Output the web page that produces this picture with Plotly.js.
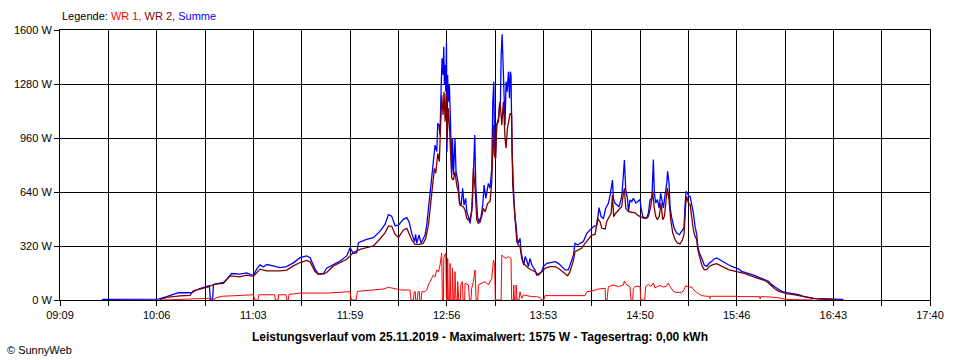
<!DOCTYPE html>
<html>
<head>
<meta charset="utf-8">
<script src="https://cdn.plot.ly/plotly-3.0.1.min.js"></script>
<style>
  html, body { margin: 0; padding: 0; background: #fff; }
  #chart { width: 960px; height: 360px; }
</style>
</head>
<body>
<div id="chart"></div>
<script>
// Times are minutes after midnight (25.11.2019), values in W.
const xLabels = ['09:09','10:06','11:03','11:59','12:56','13:53','14:50','15:46','16:43','17:40'];
const yTicks = [0, 320, 640, 960, 1280, 1600];

// Summe (blue)
const sumT = [573.7,606.8,611.7,615.6,618.5,626.3,628.3,631.2,635.2,636.7,637.3,638.7,639.1,640.1,645.0,646.9,649.8,654.7,658.7,662.6,664.5,666.5,668.4,670.4,674.3,678.2,682.1,686.1,690.0,693.9,695.9,698.8,700.7,703.7,705.6,709.6,713.5,717.4,719.4,721.3,723.3,724.3,729.1,733.1,737.0,739.9,741.9,743.8,745.8,
  747.8,750.7,752.7,754.0,755.6,757.2,757.9,758.5,759.9,761.1,762.4,763.4,764.4,765.4,766.4,767.3,768.3,769.3,770.3,770.9,771.6,772.2,772.8,773.4,774.0,774.4,774.8,775.2,775.6,776.0,776.3,776.7,777.1,777.7,778.3,779.1,779.5,780.1,781.0,781.6,782.4,783.0,783.6,784.6,785.5,786.3,787.3,787.9,788.9,789.9,791.2,792.0,792.6,793.2,794.2,795.1,796.3,797.3,798.1,799.1,800.6,801.6,802.6,803.2,803.8,804.1,804.7,805.5,806.5,807.1,807.7,808.1,808.7,809.2,809.8,810.4,811.0,811.6,812.4,813.0,813.5,813.9,814.5,815.1,815.7,816.3,816.9,817.5,818.2,819.2,819.8,820.6,821.4,822.2,823.1,824.1,825.1,826.1,828.0,829.0,830.0,831.9,832.9,834.9,837.8,839.8,841.7,843.7,845.7,847.6,848.6,850.6,851.5,853.1,854.5,856.4,858.4,860.3,862.3,864.3,865.6,866.8,868.2,869.5,871.1,872.1,873.5,874.0,875.0,877.4,878.9,879.9,880.5,881.3,882.3,882.9,883.8,884.8,885.8,
  887.3,888.7,889.7,890.3,891.3,892.2,893.6,894.6,895.6,896.7,897.5,898.1,898.9,899.9,900.9,901.8,902.6,903.4,904.4,905.4,905.9,906.7,907.3,908.3,909.7,911.2,912.8,914.2,915.5,916.1,916.7,917.5,918.3,919.1,920.0,921.0,922.0,923.0,923.6,924.5,925.9,927.3,928.9,930.4,931.8,933.2,934.7,936.3,937.7,939.6,941.6,943.5,945.5,947.5,949.4,951.4,953.3,955.3,957.2,959.2,961.2,963.1,965.1,967.0,969.0,970.9,972.9,974.9,977.8,979.8,982.7,985.6,988.6,991.5,995.4,999.3,1003.3,1009.1];
const sumW = [4,5,20,35,43,43,55,67,80,85,5,5,90,94,104,122,157,153,161,145,183,208,196,210,202,192,198,220,251,261,251,183,153,157,188,212,231,261,310,275,280,340,359,369,408,448,506,497,440,
  444,478,488,464,395,346,389,336,385,336,365,385,444,543,602,731,800,918,879,1047,1037,978,1234,1432,1333,1501,1274,1392,1234,1521,879,1333,1175,1274,1076,760,958,741,958,760,721,681,573,563,662,563,602,523,494,454,563,780,978,681,494,464,494,563,681,602,691,662,780,1175,1294,1037,839,1037,1076,1155,1175,1452,1574,1412,1195,1037,1294,1234,1353,1195,1353,1333,879,681,583,484,444,365,336,365,286,247,207,257,237,198,247,207,178,148,152,168,198,217,223,227,217,198,178,178,207,267,336,326,336,346,395,415,435,444,547,494,484,543,573,622,711,602,573,553,612,741,830,652,602,523,593,583,602,
  575,585,595,545,496,486,486,516,595,604,832,634,575,595,545,634,575,545,624,693,762,693,555,486,427,397,387,407,427,555,644,634,614,614,575,516,436,387,318,278,249,209,199,219,229,243,249,239,229,219,209,199,190,184,170,164,160,150,144,136,130,120,111,91,77,65,51,45,41,38,32,22,14,10,8,6,6,4];

// WR 2 (dark red)
const wr2T = [607.7,608.7,611.7,619.5,625.4,627.3,631.2,635.2,640.1,645.0,648.9,654.7,658.7,662.6,666.5,670.4,678.2,682.1,686.1,690.0,693.9,695.9,698.8,700.7,703.7,705.6,709.6,713.5,717.4,721.3,725.2,729.1,733.1,737.0,739.9,741.9,743.8,745.8,
  747.8,750.7,752.7,754.0,755.6,757.5,760.5,762.4,763.8,765.4,767.0,767.7,768.9,769.7,770.9,771.8,772.6,773.2,774.0,774.6,775.2,775.8,776.3,777.1,777.7,778.3,779.1,780.1,781.0,782.0,783.0,784.0,785.9,786.9,787.9,788.9,789.9,790.8,791.8,792.8,793.8,794.7,795.7,796.7,797.7,798.7,800.2,801.6,802.6,803.6,804.1,804.9,805.5,806.5,807.5,808.5,809.4,810.4,811.0,811.8,812.4,813.4,814.3,814.9,815.7,816.3,817.3,818.2,819.2,820.2,821.2,822.2,824.1,826.1,828.0,830.0,831.9,833.9,836.8,839.8,841.7,843.7,845.7,847.2,848.6,850.6,851.5,853.5,855.4,857.4,859.4,861.3,863.3,864.8,866.2,867.2,869.2,870.1,871.1,872.7,873.5,874.2,875.4,877.0,878.9,879.9,880.5,881.3,882.9,884.8,
  886.8,888.7,891.6,893.6,894.6,896.0,897.1,897.9,898.9,899.9,901.0,902.0,903.0,904.0,905.0,905.7,906.7,907.7,908.9,910.3,911.6,913.2,914.6,915.5,916.5,917.1,918.1,919.1,920.0,921.0,922.0,923.0,923.6,924.5,925.9,927.3,928.9,930.4,932.4,934.7,936.7,939.6,941.6,943.5,945.5,948.4,951.4,954.3,957.2,960.2,963.1,965.1,967.0,969.0,970.9,972.9,975.8,979.8,983.7,987.6,991.5,995.4,999.3,1005.2];
const wr2W = [3,5,16,25,27,55,65,75,94,98,143,137,147,140,183,173,173,177,202,222,235,226,169,153,153,163,202,222,241,281,300,310,320,363,398,438,438,390,
  371,415,425,395,356,330,330,336,365,444,602,701,780,751,869,820,997,1215,1096,1234,1057,1225,938,1136,1037,899,721,711,760,681,642,563,553,533,484,474,484,523,780,662,474,454,460,494,543,523,573,583,701,1037,859,839,1037,1057,1175,1037,1175,958,899,1017,1057,1106,1096,681,563,464,346,326,316,247,217,207,188,178,168,148,168,188,198,198,188,172,152,144,168,237,286,296,306,336,365,385,389,484,464,425,421,464,484,514,622,494,514,533,553,632,662,543,523,520,
  516,500,486,486,496,555,644,555,496,476,496,575,476,496,595,664,595,476,397,357,338,332,357,387,565,614,575,565,496,417,377,357,298,259,209,180,180,199,209,215,203,190,180,176,170,164,156,144,134,126,115,101,81,65,53,45,38,32,24,16,10,6,4,2];

// WR 1 (red)
const wr1T = [609.7,625.4,629.3,636.7,637.1,639.7,640.1,644.0,650.8,658.7,662.6,663.4,665.3,665.7,675.1,675.5,677.1,677.4,681.8,682.1,683.1,683.5,690.0,705.6,717.4,719.4,720.1,722.9,723.7,738.9,741.9,744.8,747.7,
  749.7,754.6,755.2,756.6,757.0,757.7,757.9,758.9,759.3,760.1,760.3,761.1,761.5,763.4,764.4,765.4,766.4,767.3,768.3,769.3,770.3,771.3,772.2,773.2,773.6,774.2,774.4,775.0,775.6,776.0,776.5,776.7,777.1,777.9,778.1,778.5,779.3,779.5,780.1,780.8,781.0,781.6,782.4,782.6,783.2,784.2,784.4,785.4,785.7,786.7,786.9,788.9,789.5,790.4,790.8,791.8,792.8,793.4,794.4,794.7,796.7,798.7,800.6,801.6,802.6,803.6,804.3,804.7,808.1,808.5,809.4,811.0,812.4,813.9,814.3,815.3,815.5,815.9,816.7,816.9,817.5,818.6,819.2,820.2,821.2,826.1,829.0,831.0,831.9,833.1,833.9,857.4,858.4,861.3,863.3,865.2,869.2,869.4,870.3,871.1,874.0,877.0,879.9,880.5,881.9,883.8,884.4,885.4,885.8,
  886.8,889.7,890.1,892.4,892.6,893.0,894.6,896.0,897.5,898.5,899.9,901.4,903.4,905.0,906.3,907.3,909.3,911.2,914.2,915.5,916.5,918.1,920.0,922.0,924.0,925.9,928.9,930.6,930.8,931.2,946.5,948.4,960.0,960.2,960.6,964.1,966.1,970.0,972.9,975.8,979.8,991.5];
const wr1W = [0,6,10,10,0,0,12,22,25,29,31,0,0,31,31,0,0,31,31,0,0,33,41,41,45,49,0,0,51,65,75,69,60,
  59,59,0,0,49,49,0,0,49,49,0,0,49,49,59,89,109,128,148,138,178,168,207,277,0,0,247,267,277,0,0,247,0,0,217,0,0,188,0,0,168,0,0,109,0,0,89,109,0,0,99,89,0,0,69,109,178,0,0,89,99,109,89,109,128,237,207,0,0,267,257,247,257,247,0,0,89,0,0,89,0,0,49,10,30,20,20,15,0,0,26,26,49,53,59,65,69,0,0,79,89,79,89,113,89,79,0,0,69,
  81,81,0,0,22,81,91,81,101,71,81,85,77,81,101,81,51,45,45,61,85,77,77,51,38,26,22,22,8,22,22,20,20,6,20,20,18,14,8,4,2,0];

const X0 = 549, X1 = 1060;
const gridVals = [], gridText = [];
for (let k = 0; k <= 18; k++) {
  gridVals.push(X0 + k * (X1 - X0) / 18);
  gridText.push(k % 2 === 0 ? xLabels[k / 2] : '');
}

const FONT = 'Liberation Sans, Arial, sans-serif';

const traces = [
  { x: sumT, y: sumW, type: 'scatter', mode: 'lines', name: 'Summe', line: { color: '#0000FF', width: 1.3 } },
  { x: wr2T, y: wr2W, type: 'scatter', mode: 'lines', name: 'WR 2', line: { color: '#800000', width: 1.3 } },
  { x: wr1T, y: wr1W, type: 'scatter', mode: 'lines', name: 'WR 1', line: { color: '#FF0000', width: 1 } }
];

const layout = {
  width: 960, height: 360,
  margin: { l: 60, r: 30, t: 30, b: 60 },
  paper_bgcolor: '#fff', plot_bgcolor: '#fff',
  showlegend: false,
  font: { family: FONT, size: 11, color: '#000' },
  xaxis: {
    type: 'linear', range: [X0, X1],
    tickmode: 'array', tickvals: gridVals, ticktext: gridText,
    showgrid: true, gridcolor: '#000', gridwidth: 1,
    ticks: 'outside', ticklen: 5, tickcolor: '#000', tickwidth: 1,
    showline: true, linecolor: '#000', linewidth: 1, mirror: true,
    zeroline: false, tickfont: { family: FONT, size: 11, color: '#000' }
  },
  yaxis: {
    range: [0, 1600],
    tickmode: 'array', tickvals: yTicks, ticktext: yTicks.map(v => v + ' W'),
    showgrid: true, gridcolor: '#000', gridwidth: 1,
    ticks: 'outside', ticklen: 5, tickcolor: '#000', tickwidth: 1,
    showline: true, linecolor: '#000', linewidth: 1, mirror: true,
    zeroline: false, tickfont: { family: FONT, size: 11, color: '#000' }
  },
  annotations: [
    { xref: 'paper', yref: 'paper', x: 0, y: (300 - 16) / 270, xanchor: 'left', yanchor: 'middle', showarrow: false,
      text: 'Legende: <span style="color:#FF0000">WR 1, </span><span style="color:#800000">WR 2, </span><span style="color:#0000FF">Summe</span>',
      font: { family: FONT, size: 11, color: '#000' } },
    { xref: 'paper', yref: 'paper', x: (480 - 60) / 870, y: (300 - 337) / 270, xanchor: 'center', yanchor: 'middle', showarrow: false,
      text: '<b>Leistungsverlauf vom 25.11.2019 - Maximalwert: 1575 W - Tagesertrag: 0,00 kWh</b>',
      font: { family: FONT, size: 12, color: '#000' } },
    { xref: 'paper', yref: 'paper', x: (5 - 60) / 870, y: (300 - 350) / 270, xanchor: 'left', yanchor: 'middle', showarrow: false,
      text: '© SunnyWeb', font: { family: FONT, size: 11, color: '#000' } }
  ]
};

Plotly.newPlot('chart', traces, layout, { displayModeBar: false, staticPlot: true });
</script>
</body>
</html>
